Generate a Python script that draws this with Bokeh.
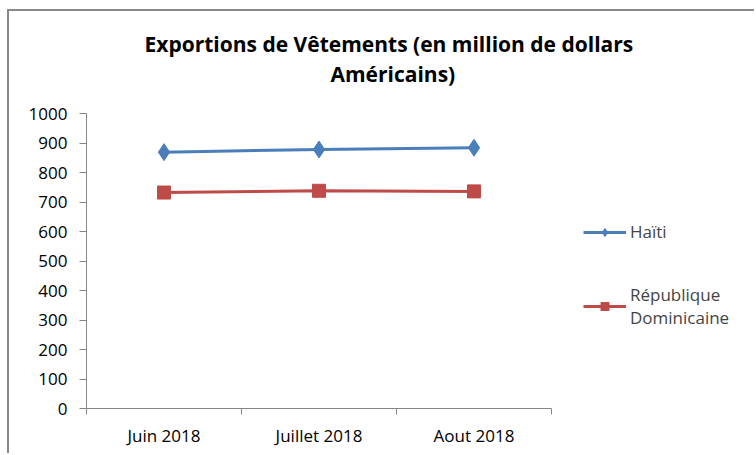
from bokeh.plotting import figure
from bokeh.models import Range1d, FixedTicker, Legend, LegendItem, Title
from bokeh.embed import file_html
from bokeh.resources import INLINE

title_lines = ["Exportions de Vêtements (en million de dollars", "Américains)"]
months = ["Juin 2018", "Juillet 2018", "Aout 2018"]
haiti = [869, 878, 884]
rep_dom = [732, 738, 736]
series_names = ["Haïti", "République\nDominicaine"]
y_ticks = list(range(0, 1001, 100))

FONT = "Open Sans"
AXIS_COLOR = "#868686"
BLUE = "#4A7EBB"
RED = "#BE4B48"
LABEL_SIZE = "17px"

xs = [i + 0.5 for i in range(len(months))]
# the frame is widened so the legend can sit inside it; the axis is bounded to the categories
X_END = len(months) * 662 / 465

p = figure(width=747, height=444, output_backend="svg", toolbar_location=None,
           x_range=Range1d(0, X_END), y_range=Range1d(0, 1000),
           min_border_left=77, min_border_right=8, min_border_top=102,
           min_border_bottom=47)
p.title = None
spacer = Title(text=" ", text_font_size="1px", standoff=23)
t2 = Title(text=title_lines[1], align="left", offset=244, text_font=FONT,
           text_font_size="21px", text_font_style="bold", text_color="#000000",
           text_line_height=0.85, standoff=0)
t1 = Title(text=title_lines[0], align="left", offset=58, text_font=FONT,
           text_font_size="21px", text_font_style="bold", text_color="#000000",
           standoff=0)
p.add_layout(spacer, "above")
p.add_layout(t2, "above")
p.add_layout(t1, "above")

p.outline_line_color = None
p.border_fill_color = "white"
p.background_fill_color = "white"
p.xgrid.visible = False
p.ygrid.visible = False

# x axis
p.xaxis.bounds = (0, len(months))
p.xaxis.ticker = FixedTicker(ticks=xs, minor_ticks=list(range(len(months) + 1)))
p.xaxis.major_label_overrides = {x: m for x, m in zip(xs, months)}
p.xaxis.major_tick_line_color = None
p.xaxis.minor_tick_line_color = AXIS_COLOR
p.xaxis.minor_tick_out = 6
p.xaxis.minor_tick_in = 0
p.xaxis.axis_line_color = AXIS_COLOR
p.xaxis.major_label_text_font = FONT
p.xaxis.major_label_text_font_size = LABEL_SIZE
p.xaxis.major_label_text_color = "#000000"
p.xaxis.major_label_standoff = 9

# y axis
p.yaxis.ticker = FixedTicker(ticks=y_ticks)
p.yaxis.axis_line_color = AXIS_COLOR
p.yaxis.major_tick_line_color = AXIS_COLOR
p.yaxis.major_tick_out = 7
p.yaxis.major_tick_in = 0
p.yaxis.minor_tick_line_color = None
p.yaxis.major_label_text_font = FONT
p.yaxis.major_label_text_font_size = LABEL_SIZE
p.yaxis.major_label_text_color = "#000000"
p.yaxis.major_label_standoff = 12

l1 = p.line(xs, haiti, line_color=BLUE, line_width=3)
m1 = p.scatter(xs, haiti, marker="diamond", size=17, fill_color=BLUE, line_color=BLUE)
l2 = p.line(xs, rep_dom, line_color=RED, line_width=3)
m2 = p.scatter(xs, rep_dom, marker="square", size=13, fill_color=RED, line_color=RED)

legend = Legend(items=[LegendItem(label=series_names[0], renderers=[l1, m1]),
                       LegendItem(label=series_names[1], renderers=[l2, m2])],
                location=(497, 79), padding=0, spacing=40, glyph_width=43,
                label_standoff=4, label_text_font=FONT, label_text_font_size=LABEL_SIZE,
                border_line_color=None, background_fill_alpha=0, margin=0)
p.add_layout(legend, "center")

p.styles = {"margin-left": "7px", "margin-top": "9px",
            "border-left": "2px solid #898989", "border-top": "2px solid #898989"}

open("out.html", "w").write(file_html(p, INLINE))
